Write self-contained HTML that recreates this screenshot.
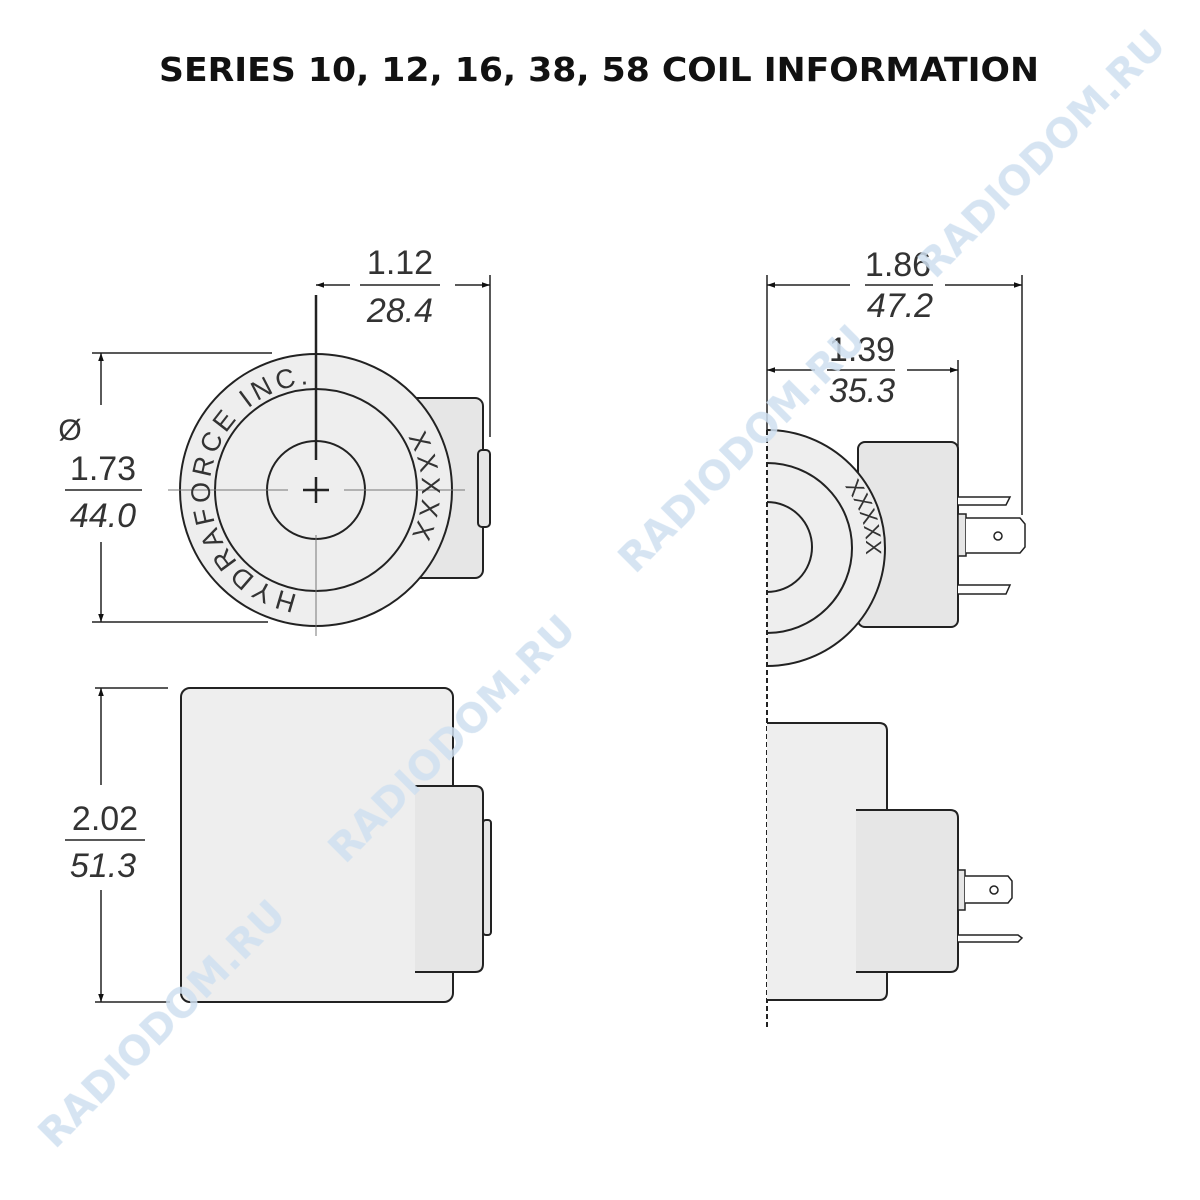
<!DOCTYPE html>
<html><head><meta charset="utf-8"><style>
html,body{margin:0;padding:0;background:#fff;}
svg{display:block;}
.t{font-family:"Liberation Sans",sans-serif;font-size:34px;fill:#333;font-weight:normal;}
.wm{font-family:"DejaVu Sans","Liberation Sans",sans-serif;font-weight:bold;font-size:40px;fill:#cfe0f0;opacity:.85;}
</style></head><body>
<svg width="1200" height="1200" viewBox="0 0 1200 1200" xmlns="http://www.w3.org/2000/svg">
<defs>
<marker id="a" viewBox="0 0 10 10" refX="10" refY="5" markerWidth="16" markerHeight="8" markerUnits="userSpaceOnUse" orient="auto-start-reverse"><path d="M0,1.5 L10,5 L0,8.5 z" fill="#111"/></marker>
<path id="ring" d="M297.6,594.4 A106,106 0 1 1 334.4,385.6 A106,106 0 0 1 297.6,594.4"/>
<path id="ring2" d="M842,483 A100,100 0 0 1 842,613"/>
</defs>
<rect width="1200" height="1200" fill="#fff"/>
<text x="599" y="81" text-anchor="middle" textLength="880" lengthAdjust="spacingAndGlyphs" style="font-family:'DejaVu Sans',sans-serif;font-weight:bold;font-size:33px;fill:#111">SERIES 10, 12, 16, 38, 58 COIL INFORMATION</text>

<g stroke="#222" stroke-width="2" fill="none">
<!-- left end view -->
<rect x="410" y="398" width="73" height="180" rx="8" fill="#e6e6e6"/>
<rect x="478" y="450" width="12" height="77" rx="4" fill="#e6e6e6"/>
<circle cx="316" cy="490" r="136" fill="#eeeeee"/>
<circle cx="316" cy="490" r="101"/>
<circle cx="316" cy="490" r="49"/>
<path d="M168,490 H288 M344,490 H465 M316,535 V636" stroke-width="1" stroke="#777"/>
<path d="M316,295 V460 M303,490 H329 M316,477 V503" stroke-width="2.5"/>
<!-- 1.12 dim -->
<path d="M490,275 V437" stroke-width="1.5"/>
<path d="M350,285 H316" marker-end="url(#a)" stroke-width="1.5"/>
<path d="M455,285 H490" marker-end="url(#a)" stroke-width="1.5"/>
<path d="M360,285 H440" stroke-width="1.5"/>
<!-- dia dim -->
<path d="M92,353 H272 M92,622 H268" stroke-width="1.5"/>
<path d="M101,405 V353" marker-end="url(#a)" stroke-width="1.5"/>
<path d="M101,542 V622" marker-end="url(#a)" stroke-width="1.5"/>
<path d="M65,490 H142" stroke-width="1.5"/>
<!-- left bottom view -->
<rect x="181" y="688" width="272" height="314" rx="9" fill="#eeeeee"/>
<path d="M415,786 H475 Q483,786 483,794 V964 Q483,972 475,972 H415" fill="#e6e6e6"/>
<rect x="483" y="820" width="8" height="115" rx="3" fill="#e6e6e6"/>
<path d="M95,688 H168 M95,1002 H170" stroke-width="1.5"/>
<path d="M101,785 V688" marker-end="url(#a)" stroke-width="1.5"/>
<path d="M101,890 V1002" marker-end="url(#a)" stroke-width="1.5"/>
<path d="M65,840 H145" stroke-width="1.5"/>

<!-- right top view -->
<rect x="858" y="442" width="100" height="185" rx="7" fill="#e6e6e6"/>
<path d="M767,430 A118,118 0 0 1 767,666 Z" fill="#eeeeee" stroke="none"/>
<path d="M767,430 A118,118 0 0 1 767,666"/>
<path d="M767,463 A85,85 0 0 1 767,633"/>
<path d="M767,502 A45,45 0 0 1 767,592"/>
<path d="M958,497 H1010 L1006,505 H958" fill="#fff" stroke-width="1.5"/>
<path d="M958,585 H1010 L1006,594 H958" fill="#fff" stroke-width="1.5"/>
<rect x="958" y="514" width="8" height="42" fill="#e6e6e6" stroke-width="1.5"/>
<path d="M966,518 H1020 L1025,524 V547 L1020,553 H966" fill="#fff" stroke-width="1.5"/>
<circle cx="998" cy="536" r="4" stroke-width="1.5"/>
<path d="M767,430 V1030" stroke-dasharray="5,3" stroke-width="2"/>
<!-- dims right -->
<path d="M1022,275 V515 M958,360 V460 M767,275 V430" stroke-width="1.5"/>
<path d="M850,285 H767" marker-end="url(#a)" stroke-width="1.5"/>
<path d="M945,285 H1022" marker-end="url(#a)" stroke-width="1.5"/>
<path d="M865,285 H933" stroke-width="1.5"/>
<path d="M815,370 H767" marker-end="url(#a)" stroke-width="1.5"/>
<path d="M907,370 H958" marker-end="url(#a)" stroke-width="1.5"/>
<path d="M827,370 H895" stroke-width="1.5"/>

<!-- right bottom view -->
<path d="M767,723 H879 Q887,723 887,731 V992 Q887,1000 879,1000 H767" fill="#eeeeee"/>
<path d="M856,810 H950 Q958,810 958,818 V964 Q958,972 950,972 H856" fill="#e6e6e6"/>
<rect x="958" y="870" width="7" height="40" fill="#e6e6e6" stroke-width="1.5"/>
<path d="M965,876 H1008 L1012,881 V898 L1008,903 H965" fill="#fff" stroke-width="1.5"/>
<circle cx="994" cy="890" r="4" stroke-width="1.5"/>
<path d="M958,935 H1018 L1022,938 L1018,942 H958" fill="#fff" stroke-width="1.5"/>
</g>

<text class="t" style="font-size:27px;letter-spacing:4px"><textPath href="#ring">HYDRAFORCE  INC.</textPath></text>
<text class="t" style="font-size:26px;letter-spacing:4px"><textPath href="#ring" startOffset="425">XXXXX</textPath></text>
<text class="t" style="font-size:22px;letter-spacing:0px"><textPath href="#ring2" startOffset="4">XXXXX</textPath></text>

<text class="t" x="400" y="274" text-anchor="middle">1.12</text>
<text class="t" x="400" y="322" text-anchor="middle" font-style="italic">28.4</text>
<text class="t" x="70" y="440" text-anchor="middle" style="font-size:30px">Ø</text>
<text class="t" x="103" y="480" text-anchor="middle">1.73</text>
<text class="t" x="103" y="527" text-anchor="middle" font-style="italic">44.0</text>
<text class="t" x="105" y="830" text-anchor="middle">2.02</text>
<text class="t" x="103" y="877" text-anchor="middle" font-style="italic">51.3</text>
<text class="t" x="898" y="276" text-anchor="middle">1.86</text>
<text class="t" x="900" y="317" text-anchor="middle" font-style="italic">47.2</text>
<text class="t" x="862" y="361" text-anchor="middle">1.39</text>
<text class="t" x="862" y="402" text-anchor="middle" font-style="italic">35.3</text>

<g class="wm">
<text transform="translate(55,1150) rotate(-45)">RADIODOM.RU</text>
<text transform="translate(345,865) rotate(-45)">RADIODOM.RU</text>
<text transform="translate(635,575) rotate(-45)">RADIODOM.RU</text>
<text transform="translate(935,280) rotate(-45)">RADIODOM.RU</text>
</g>
</svg>
</body></html>
